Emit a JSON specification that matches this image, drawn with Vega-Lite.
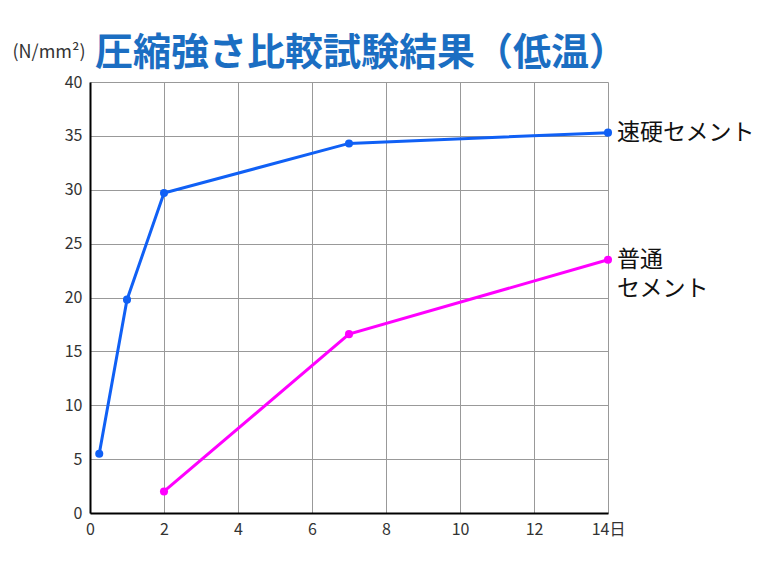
{
  "$schema": "https://vega.github.io/schema/vega-lite/v6.json",
  "width": 518,
  "height": 431,
  "autosize": {"type": "none"},
  "padding": {"left": 90, "top": 82, "right": 167, "bottom": 63},
  "background": "white",
  "title": {
    "text": "圧縮強さ比較試験結果（低温）",
    "anchor": "start",
    "frame": "group",
    "font": "Noto Sans CJK JP",
    "fontSize": 38,
    "fontWeight": "bold",
    "color": "#1B6EC2",
    "dx": 5,
    "dy": 44,
    "offset": 14
  },
  "config": {
    "view": {"stroke": null},
    "axis": {
      "labelFont": "Noto Sans CJK JP",
      "labelFontSize": 16,
      "labelColor": "#333333",
      "gridColor": "#999999",
      "gridWidth": 1,
      "gridOpacity": 1,
      "domainColor": "#000000",
      "domainWidth": 2,
      "ticks": false,
      "labelPadding": 8
    }
  },
  "data": {
    "values": [
      {"series": "速硬セメント", "day": 0.25, "value": 5.5, "label": "速硬セメント"},
      {"series": "速硬セメント", "day": 1, "value": 19.8, "label": "速硬セメント"},
      {"series": "速硬セメント", "day": 2, "value": 29.7, "label": "速硬セメント"},
      {"series": "速硬セメント", "day": 7, "value": 34.3, "label": "速硬セメント"},
      {"series": "速硬セメント", "day": 14, "value": 35.3, "label": "速硬セメント"},
      {"series": "普通セメント", "day": 2, "value": 2.0, "label": "普通\nセメント"},
      {"series": "普通セメント", "day": 7, "value": 16.6, "label": "普通\nセメント"},
      {"series": "普通セメント", "day": 14, "value": 23.5, "label": "普通\nセメント"}
    ]
  },
  "encoding": {
    "x": {
      "field": "day",
      "type": "quantitative",
      "scale": {"domain": [0, 14], "nice": false, "zero": true},
      "axis": {
        "title": null,
        "values": [0, 2, 4, 6, 8, 10, 12, 14],
        "labelExpr": "datum.value == 14 ? '14日' : datum.label",
        "labelFlush": false
      }
    },
    "y": {
      "field": "value",
      "type": "quantitative",
      "scale": {"domain": [0, 40], "nice": false},
      "axis": {
        "title": "(N/mm²)",
        "titleAngle": 0,
        "titleFont": "Noto Sans CJK JP",
        "titleFontSize": 18,
        "titleFontWeight": "normal",
        "titleColor": "#333333",
        "titleX": -78,
        "titleY": -30,
        "titleAlign": "left",
        "titleBaseline": "middle",
        "values": [0, 5, 10, 15, 20, 25, 30, 35, 40],
        "labelFlush": false
      }
    },
    "color": {
      "field": "series",
      "type": "nominal",
      "scale": {"domain": ["速硬セメント", "普通セメント"], "range": ["#1060F5", "#FF00FF"]},
      "legend": null
    }
  },
  "layer": [
    {"mark": {"type": "line", "strokeWidth": 3}},
    {"mark": {"type": "point", "filled": true, "size": 65, "opacity": 1}},
    {
      "transform": [{"filter": "datum.day == 14"}],
      "mark": {
        "type": "text",
        "align": "left",
        "baseline": "middle",
        "dx": 9,
        "font": "Noto Sans CJK JP",
        "fontSize": 23,
        "lineBreak": "\n",
        "lineHeight": 29,
        "color": "#111111"
      },
      "encoding": {
        "text": {"field": "label"},
        "color": {"value": "#111111"}
      }
    }
  ]
}
